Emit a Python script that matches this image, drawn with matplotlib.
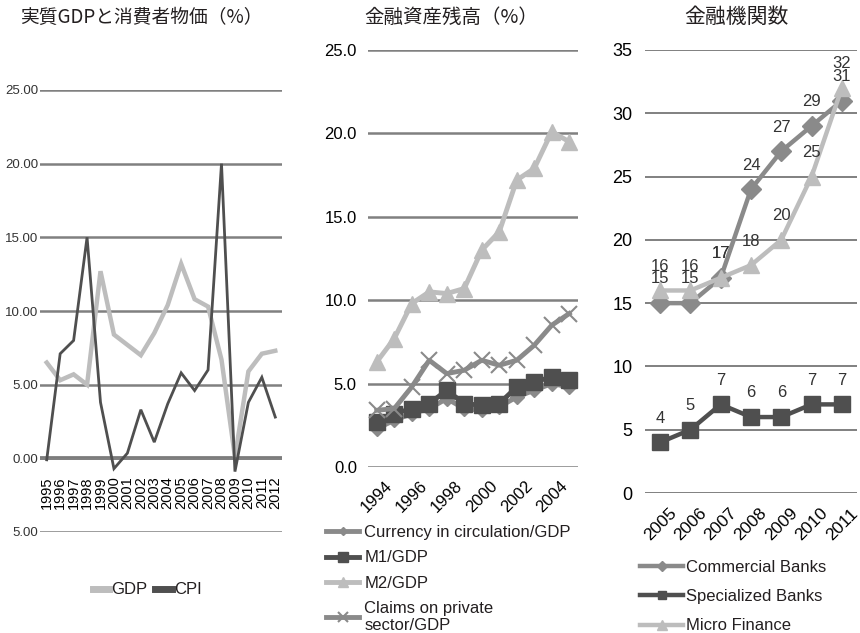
import matplotlib.pyplot as plt
from matplotlib.ticker import FixedLocator, FixedFormatter

plt.rcParams['font.family'] = ['Liberation Sans', 'Noto Sans CJK JP', 'DejaVu Sans']
plt.rcParams['text.color'] = '#231f20'

# --- real GDP growth and CPI inflation
years_l = [str(y) for y in range(1995, 2013)]
gdp = [6.5, 5.3, 5.7, 5.0, 12.7, 8.4, 7.7, 7.0, 8.5, 10.4, 13.2, 10.8, 10.3, 6.7, 0.1, 5.9, 7.1, 7.3]
cpi = [-0.1, 7.1, 8.0, 15.0, 3.8, -0.7, 0.35, 3.3, 1.1, 3.7, 5.8, 4.6, 6.0, 20.0, -0.9, 3.8, 5.5, 2.8]
yticks_l = [-5, 0, 5, 10, 15, 20, 25]
ylabels_l = ['5.00', '0.00', '5.00', '10.00', '15.00', '20.00', '25.00']

# --- financial depth ratios
years_m = list(range(1994, 2006))
currency = [2.3, 2.8, 3.2, 3.5, 4.1, 3.5, 3.4, 3.6, 4.2, 4.6, 5.0, 4.8]
m1 = [2.7, 3.2, 3.5, 3.8, 4.6, 3.8, 3.7, 3.8, 4.8, 5.1, 5.4, 5.2]
m2 = [6.3, 7.7, 9.8, 10.5, 10.4, 10.7, 13.0, 14.1, 17.2, 17.9, 20.1, 19.5]
claims = [3.4, 3.5, 4.8, 6.4, 5.6, 5.8, 6.4, 6.1, 6.4, 7.3, 8.5, 9.2]
yticks_m = [0, 5, 10, 15, 20, 25]

# --- number of financial institutions
years_r = list(range(2005, 2012))
commercial = [15, 15, 17, 24, 27, 29, 31]
specialized = [4, 5, 7, 6, 6, 7, 7]
micro = [16, 16, 17, 18, 20, 25, 32]
yticks_r = [0, 5, 10, 15, 20, 25, 30, 35]

W, H = 860, 633
fig = plt.figure(figsize=(W / 100, H / 100), dpi=100)


def add_ax(x0, y0, x1, y1):
    return fig.add_axes([x0 / W, 1 - y1 / H, (x1 - x0) / W, (y1 - y0) / H])


def clean(ax):
    for s in ax.spines.values():
        s.set_visible(False)
    ax.tick_params(length=0)
    ax.set_axisbelow(True)


LIGHT = '#bdbdbd'
MID = '#8a8a8a'
DARK = '#4f4f4f'
GRID = '#808080'
CJK = ['Noto Sans CJK JP']

# left panel
ax1 = add_ax(40, 90, 282, 532)
clean(ax1)
xl = list(range(len(years_l)))
ax1.plot(xl, gdp, color=LIGHT, lw=3.2, solid_joinstyle='miter')
ax1.plot(xl, cpi, color=DARK, lw=2.0, solid_joinstyle='miter')
ax1.set_xlim(-0.5, len(years_l) - 0.5)
ax1.set_ylim(-5, 25)
ax1.yaxis.set_major_locator(FixedLocator(yticks_l))
ax1.yaxis.set_major_formatter(FixedFormatter(ylabels_l))
ax1.grid(axis='y', color=GRID, lw=1.8)
ax1.axhline(0, color='#6e6e6e', lw=2.6, zorder=0.5)
ax1.spines['bottom'].set_position(('data', 0))
ax1.set_xticks(xl)
ax1.set_xticklabels(years_l, rotation=90, fontsize=10.5, color='black')
ax1.tick_params(axis='x', pad=13)
ax1.tick_params(axis='y', pad=1)
for t in ax1.get_yticklabels():
    t.set_fontsize(9.5)
    t.set_color('#333333')
fig.text(141 / W, 1 - 17 / H, '実質GDPと消費者物価（%）',
         ha='center', va='center', fontsize=13.5, family=CJK)
fig.legend([plt.Line2D([], [], color=LIGHT, lw=5), plt.Line2D([], [], color=DARK, lw=5)],
           ['GDP', 'CPI'], loc='center', bbox_to_anchor=(147 / W, 1 - 590 / H),
           ncol=2, frameon=False, fontsize=12, handlelength=1.0,
           handletextpad=0.1, columnspacing=0.5)

# middle panel
ax2 = add_ax(368, 50, 578, 467)
clean(ax2)
xm = list(range(len(years_m)))
ax2.plot(xm, currency, color=MID, lw=3.5, marker='D', ms=7, label='Currency in circulation/GDP')
ax2.plot(xm, m1, color=DARK, lw=3.5, marker='s', ms=11, label='M1/GDP')
ax2.plot(xm, m2, color=LIGHT, lw=3.5, marker='^', ms=12, label='M2/GDP')
ax2.plot(xm, claims, color=MID, lw=3.5, marker='x', ms=11, mew=1.5,
         label='Claims on private\nsector/GDP')
ax2.set_xlim(-0.5, len(years_m) - 0.5)
ax2.set_ylim(0, 25)
ax2.set_yticks(yticks_m)
ax2.set_yticklabels([f'{v:.1f}' for v in yticks_m], fontsize=12)
ax2.grid(axis='y', color=GRID, lw=1.8)
ax2.set_xticks(xm[::2])
ax2.set_xticklabels([str(y) for y in years_m[::2]], rotation=45, fontsize=12)
ax2.tick_params(axis='x', pad=8)
ax2.tick_params(axis='y', pad=8)
fig.text(451 / W, 1 - 17 / H, '金融資産残高（%）',
         ha='center', va='center', fontsize=14, family=CJK)
ax2.legend(loc='upper left', bbox_to_anchor=(326 / W, 1 - 525 / H),
           bbox_transform=fig.transFigure, frameon=False, fontsize=12,
           handlelength=2.0, handletextpad=0.3, labelspacing=0.62,
           markerscale=0.6, borderaxespad=0, borderpad=0)

# right panel
ax3 = add_ax(645, 50, 857, 493)
clean(ax3)
xr = list(range(len(years_r)))
series_r = [(commercial, MID, 'D', 10, 'Commercial Banks'),
            (specialized, DARK, 's', 11, 'Specialized Banks'),
            (micro, LIGHT, '^', 12, 'Micro Finance')]
for vals, col, mk, ms, lab in series_r:
    ax3.plot(xr, vals, color=col, lw=3.2, marker=mk, ms=ms, label=lab)
    for x, v in zip(xr, vals):
        ax3.annotate(str(v), (x, v), xytext=(0, 12), textcoords='offset points',
                     ha='center', va='bottom', fontsize=12, color='#333333')
ax3.set_xlim(-0.5, len(years_r) - 0.5)
ax3.set_ylim(0, 35)
ax3.set_yticks(yticks_r)
ax3.set_yticklabels([str(v) for v in yticks_r], fontsize=13)
ax3.grid(axis='y', color=GRID, lw=1.4)
ax3.set_xticks(xr)
ax3.set_xticklabels([str(y) for y in years_r], rotation=45, fontsize=12.5)
ax3.tick_params(axis='x', pad=9)
ax3.tick_params(axis='y', pad=9)
fig.text(736 / W, 1 - 17 / H, '金融機関数',
         ha='center', va='center', fontsize=15, family=CJK)
ax3.legend(loc='upper left', bbox_to_anchor=(640 / W, 1 - 560 / H),
           bbox_transform=fig.transFigure, frameon=False, fontsize=12,
           handlelength=2.6, handletextpad=0.15, labelspacing=0.85,
           markerscale=0.55, borderaxespad=0, borderpad=0)

fig.savefig('out.png', dpi=100)
